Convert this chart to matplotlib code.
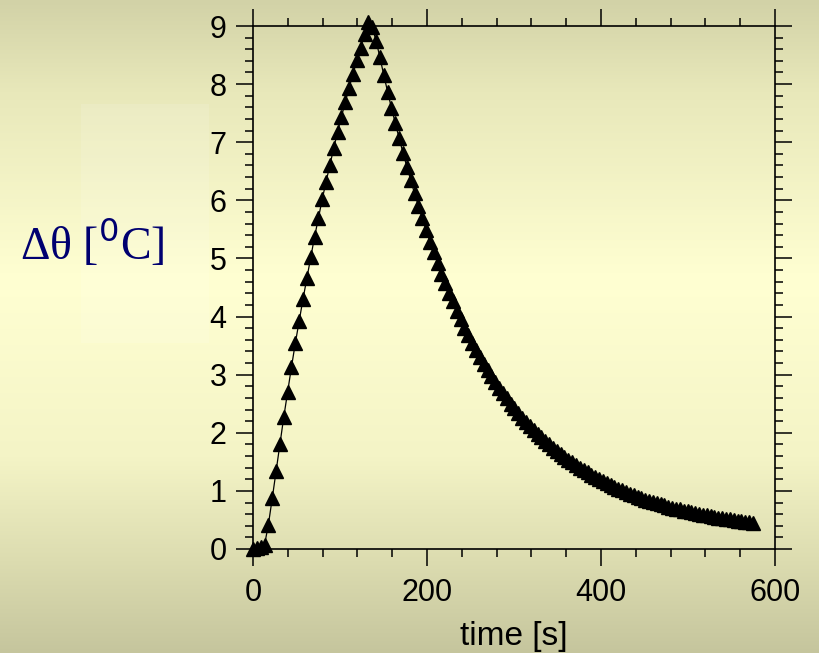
import matplotlib
matplotlib.use("Agg")
import matplotlib.pyplot as plt
import numpy as np
from matplotlib.patches import Rectangle
from matplotlib.ticker import MultipleLocator

# sampling interval of the temperature record [s]
sample_step_s = 4.42

# temperature rise above ambient, one value per sample
delta_theta = [
    0.00, 0.02, 0.03, 0.07, 0.42, 0.87, 1.34, 1.81, 2.27, 2.70,
    3.13, 3.54, 3.92, 4.30, 4.66, 5.03, 5.37, 5.69, 6.02, 6.32,
    6.61, 6.90, 7.18, 7.44, 7.69, 7.94, 8.17, 8.41, 8.63, 8.86,
    9.07, 8.98, 8.75, 8.46, 8.16, 7.87, 7.59, 7.33, 7.07, 6.82,
    6.58, 6.35, 6.12, 5.91, 5.70, 5.49, 5.29, 5.11, 4.92, 4.74,
    4.57, 4.41, 4.26, 4.10, 3.95, 3.81, 3.68, 3.55, 3.42, 3.30,
    3.19, 3.08, 2.97, 2.87, 2.77, 2.68, 2.59, 2.50, 2.42, 2.34,
    2.26, 2.19, 2.12, 2.05, 1.98, 1.92, 1.86, 1.80, 1.74, 1.69,
    1.63, 1.58, 1.53, 1.49, 1.44, 1.40, 1.36, 1.32, 1.28, 1.24,
    1.20, 1.17, 1.13, 1.10, 1.07, 1.04, 1.01, 0.98, 0.95, 0.93,
    0.90, 0.88, 0.85, 0.83, 0.81, 0.79, 0.77, 0.75, 0.73, 0.71,
    0.69, 0.68, 0.66, 0.65, 0.63, 0.62, 0.60, 0.59, 0.58, 0.56,
    0.55, 0.54, 0.53, 0.52, 0.51, 0.50, 0.49, 0.48, 0.47, 0.46,
    0.45,
]
time_s = sample_step_s * np.arange(len(delta_theta))

x_ticks = [0, 200, 400, 600]
y_ticks = list(range(10))

# slide-style background: greyish top, pale yellow middle, greyish bottom
stops = [0.0, 0.14, 0.43, 0.70, 0.86, 1.0]
colors = np.array([
    [210, 210, 167],
    [232, 232, 186],
    [255, 255, 210],
    [244, 244, 198],
    [220, 220, 176],
    [197, 197, 157],
]) / 255.0
rows = np.linspace(0, 1, 653)
grad = np.stack([np.interp(rows, stops, colors[:, c]) for c in range(3)], axis=-1)
grad = grad[:, None, :]

fig = plt.figure(figsize=(8.19, 6.53), dpi=100)
bg = fig.add_axes([0, 0, 1, 1], zorder=-10)
bg.imshow(grad, aspect="auto", extent=[0, 1, 0, 1], origin="upper")
bg.add_patch(Rectangle((81 / 819, 1 - 343 / 653), 128 / 819, 239 / 653,
                       transform=bg.transAxes, color="white", alpha=0.12, lw=0))
bg.set_xlim(0, 1)
bg.set_ylim(0, 1)
bg.axis("off")

ax = fig.add_axes([253 / 819, 104 / 653, 522 / 819, 523 / 653])
ax.patch.set_visible(False)

ax.plot(time_s, delta_theta, color="black", lw=0.9, marker="^", ms=10.5,
        mfc="black", mec="black", clip_on=False)

ax.set_xlim(0, 600)
ax.set_ylim(0, 9)
ax.set_xticks(x_ticks)
ax.set_yticks(y_ticks)
ax.xaxis.set_minor_locator(MultipleLocator(40))
ax.yaxis.set_minor_locator(MultipleLocator(0.2))

for side in ax.spines.values():
    side.set_linewidth(1.2)
ax.tick_params(which="both", direction="out", top=True, right=True,
               width=1.1, colors="black")
ax.tick_params(which="major", length=12)
ax.tick_params(which="minor", length=6)
ax.tick_params(axis="x", pad=9)
ax.tick_params(axis="y", pad=7)
for lab in ax.get_xticklabels() + ax.get_yticklabels():
    lab.set_fontfamily("Liberation Sans")
    lab.set_fontsize(22)

ax.set_xlabel("time [s]", fontfamily="Liberation Sans", fontsize=24, labelpad=9)

plt.rcParams["mathtext.fontset"] = "custom"
plt.rcParams["mathtext.rm"] = "Liberation Serif"
ax.set_ylabel(r"Δθ [$\mathrm{^0}$C]", rotation=0, fontfamily="Liberation Serif",
              fontsize=33, color="#000070", ha="center", va="center")
ax.yaxis.set_label_coords((92 - 253) / 522, (549 - 243) / 523)

fig.savefig("out.png", dpi=100)
